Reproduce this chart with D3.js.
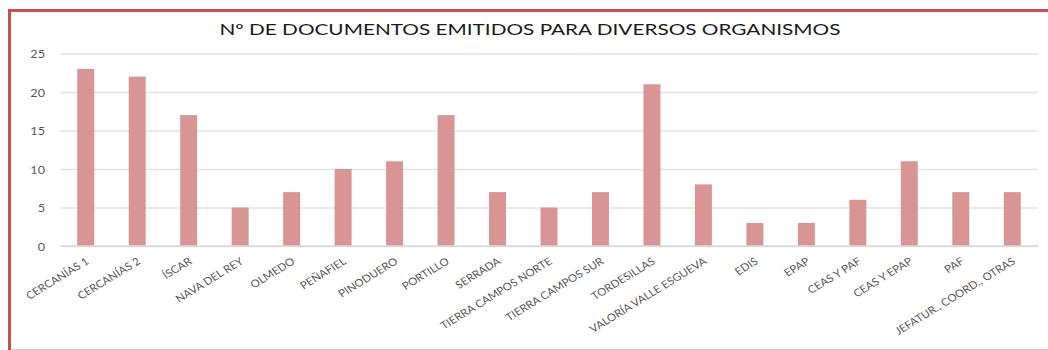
<!DOCTYPE html>
<html>
<head>
<meta charset="utf-8">
<script src="https://cdn.jsdelivr.net/npm/d3@7"></script>
<style>
  html, body { margin: 0; padding: 0; background: #fff; }
  svg { display: block; }
  text { font-family: Lato, "Open Sans", sans-serif; }
</style>
</head>
<body>
<svg id="chart" width="1048" height="350"></svg>
<script>
// Documents issued per organisation
const categories = [
  "CERCANÍAS 1", "CERCANÍAS 2", "ÍSCAR", "NAVA DEL REY", "OLMEDO", "PEÑAFIEL",
  "PINODUERO", "PORTILLO", "SERRADA", "TIERRA CAMPOS NORTE", "TIERRA CAMPOS SUR",
  "TORDESILLAS", "VALORÍA VALLE ESGUEVA", "EDIS", "EPAP", "CEAS Y PAF",
  "CEAS Y EPAP", "PAF", "JEFATUR., COORD., OTRAS"
];
const documentos = [23, 22, 17, 5, 7, 10, 11, 17, 7, 5, 7, 21, 8, 3, 3, 6, 11, 7, 7];
const yTicks = [0, 5, 10, 15, 20, 25];
const title = "Nº DE DOCUMENTOS EMITIDOS PARA DIVERSOS ORGANISMOS";

const svg = d3.select("#chart");
const W = 1048, H = 350;
const plot = { left: 60, right: 1038, top: 53.5, bottom: 246 };

// frame
svg.append("rect").attr("x", 0).attr("y", 0).attr("width", W).attr("height", H).attr("fill", "#fff");
svg.append("line").attr("x1", 9.5).attr("x2", 9.5).attr("y1", 9).attr("y2", H)
  .attr("stroke", "#C9504E").attr("stroke-width", 3);
svg.append("line").attr("x1", 8).attr("x2", W).attr("y1", 10.5).attr("y2", 10.5)
  .attr("stroke", "#C9504E").attr("stroke-width", 3);
svg.append("line").attr("x1", 11).attr("x2", W).attr("y1", 349.5).attr("y2", 349.5)
  .attr("stroke", "#E8BFBE").attr("stroke-width", 1);

const x = d3.scaleBand().domain(categories).range([plot.left, plot.right]).paddingInner(0.67).paddingOuter(0.335);
const y = d3.scaleLinear().domain([0, 25]).range([plot.bottom, plot.top]);

// gridlines
const yAxis = d3.axisLeft(y).tickValues(yTicks).tickSize(-(plot.right - plot.left)).tickPadding(15);
const gy = svg.append("g").attr("transform", `translate(${plot.left},0)`).call(yAxis);
gy.select(".domain").remove();
gy.selectAll(".tick line").attr("stroke", "#E3E3E3").attr("stroke-width", 1.5);
gy.selectAll(".tick text")
  .attr("fill", "#595959").attr("font-size", 11).attr("x", null).attr("dy", null)
  .attr("text-anchor", "end")
  .attr("dominant-baseline", "central")
  .attr("transform", `translate(-15,0) scale(1.15,1)`);

// bars
svg.append("g").selectAll("rect").data(categories).join("rect")
  .attr("x", d => x(d))
  .attr("width", x.bandwidth())
  .attr("y", (d, i) => y(documentos[i]))
  .attr("height", (d, i) => y(0) - y(documentos[i]))
  .attr("fill", "#D99594");

// baseline
svg.append("line").attr("x1", plot.left).attr("x2", plot.right)
  .attr("y1", y(0)).attr("y2", y(0)).attr("stroke", "#D9D9D9").attr("stroke-width", 1.5);

// category labels, slanted
const xAxis = d3.axisBottom(x).tickSize(0).tickPadding(0);
const gx = svg.append("g").attr("transform", `translate(0,${plot.bottom})`).call(xAxis);
gx.select(".domain").remove();
gx.selectAll(".tick text")
  .attr("fill", "#595959").attr("font-size", 10.5)
  .attr("y", null).attr("dy", null)
  .attr("text-anchor", "end")
  .attr("transform", `translate(4,17) scale(1.1,1) rotate(-34)`);

// title
svg.append("text")
  .attr("transform", `translate(530,35) scale(1.34,1)`)
  .attr("text-anchor", "middle")
  .attr("font-size", 15.5)
  .attr("fill", "#1a1a1a")
  .text(title);
</script>
</body>
</html>
